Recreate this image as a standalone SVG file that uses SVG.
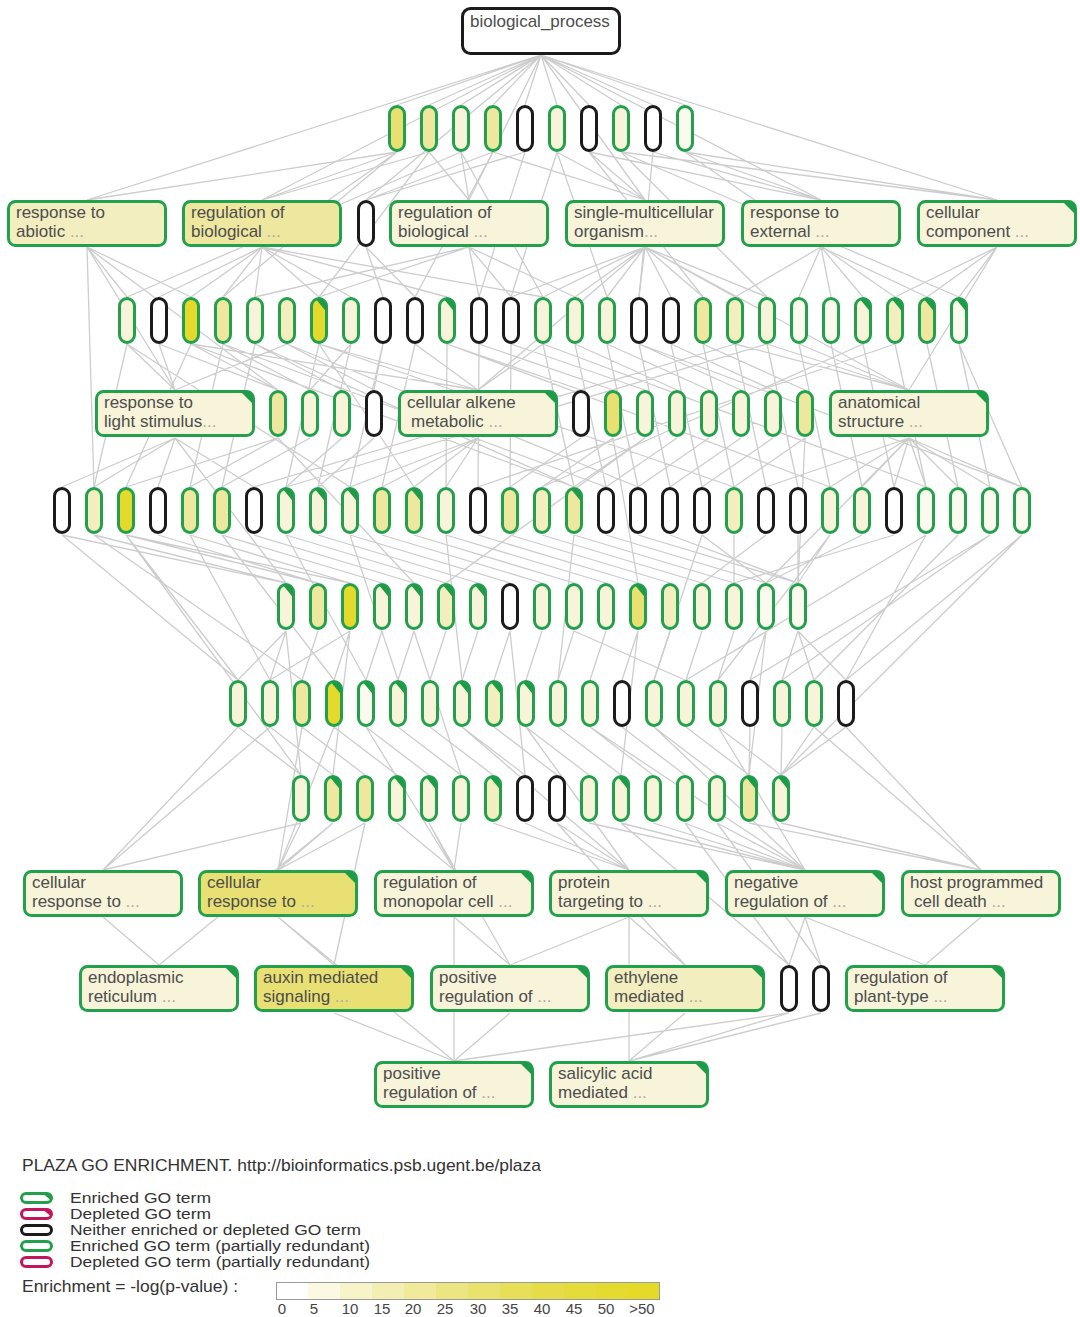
<svg xmlns="http://www.w3.org/2000/svg" xmlns:xlink="http://www.w3.org/1999/xlink" width="1080" height="1317" viewBox="0 0 1080 1317">
<style>
.e{stroke:#cdcdcd;stroke-width:1.3;fill:none}
.g{stroke:#22a04b;stroke-width:3}
.k{stroke:#1b1b1b;stroke-width:3}
.m{stroke:#c2185b;stroke-width:3}
.w{fill:#ffffff}
.f0{fill:#fbfaee}
.f1{fill:#f7f4da}
.f2{fill:#f2eec0}
.f3{fill:#eee79f}
.f4{fill:#e9e073}
.f5{fill:#e5da2c}
.t{font-family:"Liberation Sans",Arial,sans-serif;font-size:17px;fill:#4d4d4d}
.d{fill:#aaaaaa}
.lg{font-family:"Liberation Sans",Arial,sans-serif;font-size:17px;fill:#333333}
.ls{font-family:"Liberation Sans",Arial,sans-serif;font-size:14.5px;fill:#333333}
.sc{font-family:"Liberation Sans",Arial,sans-serif;font-size:15px;fill:#444444;text-anchor:middle}
</style>
<defs>
<rect id="p" width="15" height="44" rx="7.5"/>
<g id="pf"><use href="#p"/><path d="M4.5 0.63A7.5 7.5 0 0 1 15 7.5V13.5Z" fill="#1e9b48" stroke="none"/></g>
<rect id="b" width="157" height="44" rx="7"/>
<g id="bf"><use href="#b"/><path d="M144 0H150A7 7 0 0 1 157 7V13Z" fill="#1e9b48" stroke="none"/></g>
</defs>
<rect width="1080" height="1317" fill="#ffffff"/>
<g id="edges" class="e">
<path d="M541 55L397 105M541 55L429 105M541 55L461 105M541 55L493 105M541 55L525 105M541 55L557 105M541 55L589 105M541 55L621 105M541 55L653 105M541 55L685 105M541 55L87 200M541 55L262 200M541 55L366 200M541 55L469 200M541 55L645 200M541 55L821 200M541 55L997 200"/>
<path d="M397 152L87 200M397 152L262 200M429 152L262 200M429 152L469 200M461 152L469 200M461 152L127 297M493 152L645 200M493 152L366 200M525 152L366 200M557 152L645 200M589 152L821 200M589 152L645 200M621 152L997 200M653 152L821 200M685 152L997 200M685 152L821 200M397 152L191 297M429 152L319 297M461 152L543 297M525 152L479 297M557 152L607 297M589 152L703 297M621 152L767 297M653 152L639 297M685 152L895 297M493 152L415 297M621 152L959 297M397 152L223 297M557 152L511 297"/>
<path d="M87 247L127 297M87 247L191 297M87 247L278 390M87 247L175 390M262 247L223 297M262 247L255 297M262 247L319 297M262 247L351 297M262 247L447 297M262 247L543 297M366 247L383 297M366 247L415 297M469 247L479 297M469 247L511 297M469 247L575 297M469 247L319 297M469 247L255 297M645 247L575 297M645 247L607 297M645 247L639 297M645 247L671 297M645 247L703 297M645 247L735 297M645 247L767 297M645 247L511 297M645 247L543 297M645 247L478 390M645 247L909 390M821 247L799 297M821 247L831 297M821 247L863 297M821 247L735 297M821 247L927 297M997 247L959 297M997 247L927 297M997 247L895 297M997 247L909 390M87 247L94 487M262 247L159 297"/>
<path d="M127 344L175 390M127 344L94 487M159 344L175 390M159 344L278 390M191 344L126 487M191 344L278 390M191 344L478 390M223 344L310 390M223 344L190 487M255 344L342 390M255 344L222 487M287 344L374 390M287 344L175 390M319 344L478 390M319 344L286 487M319 344L414 487M351 344L310 390M351 344L318 487M383 344L374 390M383 344L350 487M415 344L478 390M415 344L382 487M447 344L581 390M447 344L446 487M479 344L613 390M479 344L478 487M511 344L645 390M511 344L510 487M543 344L478 390M543 344L574 487M575 344L677 390M575 344L606 487M607 344L709 390M607 344L638 487M639 344L741 390M639 344L670 487M671 344L773 390M671 344L702 487M703 344L805 390M703 344L734 487M735 344L909 390M735 344L766 487M767 344L909 390M767 344L798 487M799 344L909 390M799 344L830 487M831 344L862 487M863 344L894 487M895 344L926 487M927 344L958 487M959 344L990 487M959 344L1022 487M191 344L574 487M223 344L606 487M287 344L638 487M735 344L254 487M767 344L286 487M863 344L542 487M895 344L478 487M127 344L350 487M447 344L830 487M543 344L926 487M639 344L1022 487M319 344L734 487M255 344L574 487"/>
<path d="M175 438L62 487M175 438L94 487M175 438L158 487M175 438L254 487M278 438L126 487M278 438L190 487M310 438L222 487M342 438L286 487M374 438L318 487M478 438L350 487M478 438L382 487M478 438L414 487M478 438L446 487M581 438L510 487M613 438L542 487M645 438L574 487M677 438L606 487M709 438L638 487M741 438L670 487M773 438L702 487M805 438L734 487M909 438L830 487M909 438L862 487M909 438L894 487M909 438L926 487M909 438L958 487M909 438L990 487M909 438L1022 487M909 438L766 487M278 438L414 583M613 438L638 583M805 438L798 583M645 438L446 583M175 438L286 583M909 438L766 583"/>
<path d="M94 535L286 583M126 535L318 583M126 535L350 583M126 535L238 680M158 535L318 583M190 535L350 583M190 535L270 680M222 535L382 583M254 535L414 583M286 535L446 583M318 535L478 583M350 535L510 583M382 535L542 583M414 535L574 583M446 535L606 583M478 535L638 583M510 535L670 583M542 535L702 583M574 535L734 583M606 535L766 583M638 535L798 583M670 535L798 583M702 535L766 583M734 535L734 583M766 535L702 583M798 535L798 583M830 535L798 583M862 535L766 583M894 535L734 583M926 535L846 680M958 535L814 680M990 535L782 680M1022 535L846 680M62 535L238 680M94 535L302 680M222 535L334 680M286 535L366 680M350 535L398 680M446 535L462 680M574 535L558 680M702 535L654 680M830 535L718 680M926 535L686 680M990 535L750 680M126 535L301 775M1022 535L781 775M62 535L286 583"/>
<path d="M286 631L238 680M286 631L270 680M318 631L302 680M350 631L334 680M350 631L270 680M382 631L366 680M414 631L398 680M446 631L430 680M478 631L462 680M510 631L494 680M542 631L526 680M574 631L558 680M606 631L590 680M638 631L622 680M670 631L654 680M702 631L686 680M734 631L718 680M766 631L750 680M798 631L782 680M798 631L814 680M798 631L846 680M350 631L333 775M638 631L621 775M510 631L525 775M414 631L461 775M286 631L301 775M766 631L749 775M574 631L685 680"/>
<path d="M238 727L301 775M270 727L333 775M302 727L365 775M334 727L397 775M366 727L429 775M398 727L461 775M430 727L493 775M462 727L525 775M494 727L557 775M526 727L589 775M558 727L621 775M590 727L653 775M622 727L685 775M654 727L717 775M686 727L749 775M718 727L781 775M750 727L749 775M782 727L781 775M814 727L781 775M846 727L781 775M238 727L103 870M270 727L103 870M302 727L278 870M334 727L278 870M366 727L454 870M462 727L629 870M526 727L629 870M590 727L805 870M654 727L805 870M718 727L805 870M846 727L981 870M814 727L981 870"/>
<path d="M301 823L103 870M301 823L278 870M333 823L278 870M365 823L278 870M397 823L454 870M429 823L454 870M461 823L454 870M493 823L629 870M525 823L629 870M557 823L629 870M589 823L805 870M621 823L805 870M653 823L805 870M685 823L805 870M717 823L805 870M749 823L981 870M781 823L981 870M333 823L159 965M365 823L334 965M429 823L510 965M621 823L789 965M685 823L789 965M717 823L821 965M557 823L685 965"/>
<path d="M103 917L159 965M278 917L334 965M454 917L510 965M629 917L685 965M805 917L789 965M805 917L821 965M981 917L925 965M629 917L510 965M278 917L454 1061M629 917L629 1061M805 917L925 965M454 917L454 1061"/>
<path d="M510 1013L454 1061M685 1013L629 1061M789 1013L629 1061M821 1013L629 1061M789 1013L454 1061M334 1013L454 1061"/>
</g>
<g id="root"><rect x="462.5" y="8.5" width="157" height="45" rx="8" class="k w"/><text class="t" x="470" y="27">biological_process</text></g>
<g id="a1"><use href="#p" x="389.5" y="106.5" class="g f4"/></g>
<g id="a2"><use href="#p" x="421.5" y="106.5" class="g f3"/></g>
<g id="a3"><use href="#p" x="453.5" y="106.5" class="g f1"/></g>
<g id="a4"><use href="#p" x="485.5" y="106.5" class="g f3"/></g>
<g id="a5"><use href="#p" x="517.5" y="106.5" class="k w"/></g>
<g id="a6"><use href="#p" x="549.5" y="106.5" class="g f1"/></g>
<g id="a7"><use href="#p" x="581.5" y="106.5" class="k w"/></g>
<g id="a8"><use href="#p" x="613.5" y="106.5" class="g f1"/></g>
<g id="a9"><use href="#p" x="645.5" y="106.5" class="k w"/></g>
<g id="a10"><use href="#p" x="677.5" y="106.5" class="g f0"/></g>
<g id="b1"><use href="#b" x="8.5" y="201.5" class="g f2"/><text class="t" x="16" y="218">response to</text><text class="t" x="16" y="237">abiotic <tspan class="d">...</tspan></text></g>
<g id="b2"><use href="#b" x="183.5" y="201.5" class="g f3"/><text class="t" x="191" y="218">regulation of</text><text class="t" x="191" y="237">biological <tspan class="d">...</tspan></text></g>
<g id="bp"><use href="#p" x="358.5" y="201.5" class="k w"/></g>
<g id="b3"><use href="#b" x="390.5" y="201.5" class="g f1"/><text class="t" x="398" y="218">regulation of</text><text class="t" x="398" y="237">biological <tspan class="d">...</tspan></text></g>
<g id="b4"><use href="#b" x="566.5" y="201.5" class="g f1"/><text class="t" x="574" y="218">single-multicellular</text><text class="t" x="574" y="237">organism<tspan class="d">...</tspan></text></g>
<g id="b5"><use href="#b" x="742.5" y="201.5" class="g f1"/><text class="t" x="750" y="218">response to</text><text class="t" x="750" y="237">external <tspan class="d">...</tspan></text></g>
<g id="b6"><use href="#bf" x="918.5" y="201.5" class="g f1"/><text class="t" x="926" y="218">cellular</text><text class="t" x="926" y="237">component <tspan class="d">...</tspan></text></g>
<g id="c1"><use href="#p" x="119.5" y="298.5" class="g f1"/></g>
<g id="c2"><use href="#p" x="151.5" y="298.5" class="k w"/></g>
<g id="c3"><use href="#p" x="183.5" y="298.5" class="g f5"/></g>
<g id="c4"><use href="#p" x="215.5" y="298.5" class="g f3"/></g>
<g id="c5"><use href="#p" x="247.5" y="298.5" class="g f1"/></g>
<g id="c6"><use href="#p" x="279.5" y="298.5" class="g f2"/></g>
<g id="c7"><use href="#pf" x="311.5" y="298.5" class="g f5"/></g>
<g id="c8"><use href="#p" x="343.5" y="298.5" class="g f1"/></g>
<g id="c9"><use href="#p" x="375.5" y="298.5" class="k w"/></g>
<g id="c10"><use href="#p" x="407.5" y="298.5" class="k w"/></g>
<g id="c11"><use href="#pf" x="439.5" y="298.5" class="g f1"/></g>
<g id="c12"><use href="#p" x="471.5" y="298.5" class="k w"/></g>
<g id="c13"><use href="#p" x="503.5" y="298.5" class="k w"/></g>
<g id="c14"><use href="#p" x="535.5" y="298.5" class="g f1"/></g>
<g id="c15"><use href="#p" x="567.5" y="298.5" class="g f1"/></g>
<g id="c16"><use href="#p" x="599.5" y="298.5" class="g f1"/></g>
<g id="c17"><use href="#p" x="631.5" y="298.5" class="k w"/></g>
<g id="c18"><use href="#p" x="663.5" y="298.5" class="k w"/></g>
<g id="c19"><use href="#p" x="695.5" y="298.5" class="g f3"/></g>
<g id="c20"><use href="#p" x="727.5" y="298.5" class="g f2"/></g>
<g id="c21"><use href="#p" x="759.5" y="298.5" class="g f1"/></g>
<g id="c22"><use href="#p" x="791.5" y="298.5" class="g f0"/></g>
<g id="c23"><use href="#p" x="823.5" y="298.5" class="g f0"/></g>
<g id="c24"><use href="#pf" x="855.5" y="298.5" class="g f1"/></g>
<g id="c25"><use href="#pf" x="887.5" y="298.5" class="g f2"/></g>
<g id="c26"><use href="#pf" x="919.5" y="298.5" class="g f3"/></g>
<g id="c27"><use href="#pf" x="951.5" y="298.5" class="g f0"/></g>
<g id="d1"><use href="#bf" x="96.5" y="391.5" class="g f1"/><text class="t" x="104" y="408">response to</text><text class="t" x="104" y="427">light stimulus<tspan class="d">...</tspan></text></g>
<g id="dp1"><use href="#p" x="270.5" y="391.5" class="g f3"/></g>
<g id="dp2"><use href="#p" x="302.5" y="391.5" class="g f1"/></g>
<g id="dp3"><use href="#p" x="334.5" y="391.5" class="g f1"/></g>
<g id="dp4"><use href="#p" x="366.5" y="391.5" class="k w"/></g>
<g id="d2"><use href="#bf" x="399.5" y="391.5" class="g f1"/><text class="t" x="407" y="408">cellular alkene</text><text class="t" x="411" y="427">metabolic <tspan class="d">...</tspan></text></g>
<g id="dp5"><use href="#p" x="573.5" y="391.5" class="k w"/></g>
<g id="dp6"><use href="#p" x="605.5" y="391.5" class="g f4"/></g>
<g id="dp7"><use href="#p" x="637.5" y="391.5" class="g f1"/></g>
<g id="dp8"><use href="#p" x="669.5" y="391.5" class="g f1"/></g>
<g id="dp9"><use href="#p" x="701.5" y="391.5" class="g f1"/></g>
<g id="dp10"><use href="#p" x="733.5" y="391.5" class="g f1"/></g>
<g id="dp11"><use href="#p" x="765.5" y="391.5" class="g f1"/></g>
<g id="dp12"><use href="#p" x="797.5" y="391.5" class="g f3"/></g>
<g id="d3"><use href="#bf" x="830.5" y="391.5" class="g f1"/><text class="t" x="838" y="408">anatomical</text><text class="t" x="838" y="427">structure <tspan class="d">...</tspan></text></g>
<g id="e1"><use href="#p" x="54.5" y="488.5" class="k w"/></g>
<g id="e2"><use href="#p" x="86.5" y="488.5" class="g f2"/></g>
<g id="e3"><use href="#p" x="118.5" y="488.5" class="g f5"/></g>
<g id="e4"><use href="#p" x="150.5" y="488.5" class="k w"/></g>
<g id="e5"><use href="#p" x="182.5" y="488.5" class="g f3"/></g>
<g id="e6"><use href="#p" x="214.5" y="488.5" class="g f3"/></g>
<g id="e7"><use href="#p" x="246.5" y="488.5" class="k w"/></g>
<g id="e8"><use href="#pf" x="278.5" y="488.5" class="g f1"/></g>
<g id="e9"><use href="#pf" x="310.5" y="488.5" class="g f1"/></g>
<g id="e10"><use href="#pf" x="342.5" y="488.5" class="g f1"/></g>
<g id="e11"><use href="#p" x="374.5" y="488.5" class="g f3"/></g>
<g id="e12"><use href="#pf" x="406.5" y="488.5" class="g f3"/></g>
<g id="e13"><use href="#p" x="438.5" y="488.5" class="g f1"/></g>
<g id="e14"><use href="#p" x="470.5" y="488.5" class="k w"/></g>
<g id="e15"><use href="#p" x="502.5" y="488.5" class="g f3"/></g>
<g id="e16"><use href="#p" x="534.5" y="488.5" class="g f2"/></g>
<g id="e17"><use href="#pf" x="566.5" y="488.5" class="g f3"/></g>
<g id="e18"><use href="#p" x="598.5" y="488.5" class="k w"/></g>
<g id="e19"><use href="#p" x="630.5" y="488.5" class="k w"/></g>
<g id="e20"><use href="#p" x="662.5" y="488.5" class="k w"/></g>
<g id="e21"><use href="#p" x="694.5" y="488.5" class="k w"/></g>
<g id="e22"><use href="#p" x="726.5" y="488.5" class="g f2"/></g>
<g id="e23"><use href="#p" x="758.5" y="488.5" class="k w"/></g>
<g id="e24"><use href="#p" x="790.5" y="488.5" class="k w"/></g>
<g id="e25"><use href="#p" x="822.5" y="488.5" class="g f1"/></g>
<g id="e26"><use href="#p" x="854.5" y="488.5" class="g f1"/></g>
<g id="e27"><use href="#p" x="886.5" y="488.5" class="k w"/></g>
<g id="e28"><use href="#p" x="918.5" y="488.5" class="g f0"/></g>
<g id="e29"><use href="#p" x="950.5" y="488.5" class="g f0"/></g>
<g id="e30"><use href="#p" x="982.5" y="488.5" class="g f0"/></g>
<g id="e31"><use href="#p" x="1014.5" y="488.5" class="g f0"/></g>
<g id="f1"><use href="#pf" x="278.5" y="584.5" class="g f1"/></g>
<g id="f2"><use href="#p" x="310.5" y="584.5" class="g f3"/></g>
<g id="f3"><use href="#p" x="342.5" y="584.5" class="g f5"/></g>
<g id="f4"><use href="#pf" x="374.5" y="584.5" class="g f1"/></g>
<g id="f5"><use href="#pf" x="406.5" y="584.5" class="g f1"/></g>
<g id="f6"><use href="#pf" x="438.5" y="584.5" class="g f2"/></g>
<g id="f7"><use href="#pf" x="470.5" y="584.5" class="g f1"/></g>
<g id="f8"><use href="#p" x="502.5" y="584.5" class="k w"/></g>
<g id="f9"><use href="#p" x="534.5" y="584.5" class="g f1"/></g>
<g id="f10"><use href="#p" x="566.5" y="584.5" class="g f1"/></g>
<g id="f11"><use href="#p" x="598.5" y="584.5" class="g f1"/></g>
<g id="f12"><use href="#pf" x="630.5" y="584.5" class="g f4"/></g>
<g id="f13"><use href="#p" x="662.5" y="584.5" class="g f2"/></g>
<g id="f14"><use href="#p" x="694.5" y="584.5" class="g f1"/></g>
<g id="f15"><use href="#p" x="726.5" y="584.5" class="g f1"/></g>
<g id="f16"><use href="#p" x="758.5" y="584.5" class="g f0"/></g>
<g id="f17"><use href="#p" x="790.5" y="584.5" class="g f0"/></g>
<g id="g1"><use href="#p" x="230.5" y="681.5" class="g f1"/></g>
<g id="g2"><use href="#p" x="262.5" y="681.5" class="g f1"/></g>
<g id="g3"><use href="#p" x="294.5" y="681.5" class="g f3"/></g>
<g id="g4"><use href="#pf" x="326.5" y="681.5" class="g f5"/></g>
<g id="g5"><use href="#pf" x="358.5" y="681.5" class="g f0"/></g>
<g id="g6"><use href="#pf" x="390.5" y="681.5" class="g f1"/></g>
<g id="g7"><use href="#p" x="422.5" y="681.5" class="g f1"/></g>
<g id="g8"><use href="#pf" x="454.5" y="681.5" class="g f1"/></g>
<g id="g9"><use href="#pf" x="486.5" y="681.5" class="g f2"/></g>
<g id="g10"><use href="#pf" x="518.5" y="681.5" class="g f1"/></g>
<g id="g11"><use href="#p" x="550.5" y="681.5" class="g f1"/></g>
<g id="g12"><use href="#p" x="582.5" y="681.5" class="g f1"/></g>
<g id="g13"><use href="#p" x="614.5" y="681.5" class="k w"/></g>
<g id="g14"><use href="#p" x="646.5" y="681.5" class="g f1"/></g>
<g id="g15"><use href="#p" x="678.5" y="681.5" class="g f1"/></g>
<g id="g16"><use href="#p" x="710.5" y="681.5" class="g f1"/></g>
<g id="g17"><use href="#p" x="742.5" y="681.5" class="k w"/></g>
<g id="g18"><use href="#p" x="774.5" y="681.5" class="g f1"/></g>
<g id="g19"><use href="#p" x="806.5" y="681.5" class="g f1"/></g>
<g id="g20"><use href="#p" x="838.5" y="681.5" class="k w"/></g>
<g id="h1"><use href="#p" x="293.5" y="776.5" class="g f1"/></g>
<g id="h2"><use href="#pf" x="325.5" y="776.5" class="g f3"/></g>
<g id="h3"><use href="#p" x="357.5" y="776.5" class="g f3"/></g>
<g id="h4"><use href="#pf" x="389.5" y="776.5" class="g f1"/></g>
<g id="h5"><use href="#pf" x="421.5" y="776.5" class="g f1"/></g>
<g id="h6"><use href="#p" x="453.5" y="776.5" class="g f1"/></g>
<g id="h7"><use href="#pf" x="485.5" y="776.5" class="g f2"/></g>
<g id="h8"><use href="#p" x="517.5" y="776.5" class="k w"/></g>
<g id="h9"><use href="#p" x="549.5" y="776.5" class="k w"/></g>
<g id="h10"><use href="#p" x="581.5" y="776.5" class="g f1"/></g>
<g id="h11"><use href="#pf" x="613.5" y="776.5" class="g f1"/></g>
<g id="h12"><use href="#p" x="645.5" y="776.5" class="g f1"/></g>
<g id="h13"><use href="#p" x="677.5" y="776.5" class="g f1"/></g>
<g id="h14"><use href="#p" x="709.5" y="776.5" class="g f1"/></g>
<g id="h15"><use href="#pf" x="741.5" y="776.5" class="g f3"/></g>
<g id="h16"><use href="#pf" x="773.5" y="776.5" class="g f1"/></g>
<g id="i1"><use href="#b" x="24.5" y="871.5" class="g f1"/><text class="t" x="32" y="888">cellular</text><text class="t" x="32" y="907">response to <tspan class="d">...</tspan></text></g>
<g id="i2"><use href="#bf" x="199.5" y="871.5" class="g f4"/><text class="t" x="207" y="888">cellular</text><text class="t" x="207" y="907">response to <tspan class="d">...</tspan></text></g>
<g id="i3"><use href="#bf" x="375.5" y="871.5" class="g f1"/><text class="t" x="383" y="888">regulation of</text><text class="t" x="383" y="907">monopolar cell <tspan class="d">...</tspan></text></g>
<g id="i4"><use href="#bf" x="550.5" y="871.5" class="g f1"/><text class="t" x="558" y="888">protein</text><text class="t" x="558" y="907">targeting to <tspan class="d">...</tspan></text></g>
<g id="i5"><use href="#bf" x="726.5" y="871.5" class="g f1"/><text class="t" x="734" y="888">negative</text><text class="t" x="734" y="907">regulation of <tspan class="d">...</tspan></text></g>
<g id="i6"><use href="#b" x="902.5" y="871.5" class="g f1"/><text class="t" x="910" y="888">host programmed</text><text class="t" x="914" y="907">cell death <tspan class="d">...</tspan></text></g>
<g id="j1"><use href="#bf" x="80.5" y="966.5" class="g f1"/><text class="t" x="88" y="983">endoplasmic</text><text class="t" x="88" y="1002">reticulum <tspan class="d">...</tspan></text></g>
<g id="j2"><use href="#bf" x="255.5" y="966.5" class="g f4"/><text class="t" x="263" y="983">auxin mediated</text><text class="t" x="263" y="1002">signaling <tspan class="d">...</tspan></text></g>
<g id="j3"><use href="#bf" x="431.5" y="966.5" class="g f1"/><text class="t" x="439" y="983">positive</text><text class="t" x="439" y="1002">regulation of <tspan class="d">...</tspan></text></g>
<g id="j4"><use href="#bf" x="606.5" y="966.5" class="g f2"/><text class="t" x="614" y="983">ethylene</text><text class="t" x="614" y="1002">mediated <tspan class="d">...</tspan></text></g>
<g id="jp1"><use href="#p" x="781.5" y="966.5" class="k w"/></g>
<g id="jp2"><use href="#p" x="813.5" y="966.5" class="k w"/></g>
<g id="j5"><use href="#bf" x="846.5" y="966.5" class="g f1"/><text class="t" x="854" y="983">regulation of</text><text class="t" x="854" y="1002">plant-type <tspan class="d">...</tspan></text></g>
<g id="k1"><use href="#bf" x="375.5" y="1062.5" class="g f1"/><text class="t" x="383" y="1079">positive</text><text class="t" x="383" y="1098">regulation of <tspan class="d">...</tspan></text></g>
<g id="k2"><use href="#bf" x="550.5" y="1062.5" class="g f1"/><text class="t" x="558" y="1079">salicylic acid</text><text class="t" x="558" y="1098">mediated <tspan class="d">...</tspan></text></g>
<g id="legend">
<text class="lg" x="22" y="1171" font-size="16" textLength="519" lengthAdjust="spacingAndGlyphs">PLAZA GO ENRICHMENT. http://bioinformatics.psb.ugent.be/plaza</text>
<rect x="21.5" y="1193.5" width="30" height="9" rx="4.5" class="g w"/><path d="M43 1193.5H47A4.5 4.5 0 0 1 51.5 1198V1201Z" fill="#1e9b48"/>
<rect x="21.5" y="1209.5" width="30" height="9" rx="4.5" class="m w"/><path d="M43 1209.5H47A4.5 4.5 0 0 1 51.5 1214V1217Z" fill="#c2185b"/>
<rect x="21.5" y="1225.5" width="30" height="9" rx="4.5" class="k w"/>
<rect x="21.5" y="1241.5" width="30" height="9" rx="4.5" class="g w"/>
<rect x="21.5" y="1257.5" width="30" height="9" rx="4.5" class="m w"/>
<text class="ls" x="70" y="1203" textLength="141" lengthAdjust="spacingAndGlyphs">Enriched GO term</text>
<text class="ls" x="70" y="1219" textLength="141" lengthAdjust="spacingAndGlyphs">Depleted GO term</text>
<text class="ls" x="70" y="1235" textLength="291" lengthAdjust="spacingAndGlyphs">Neither enriched or depleted GO term</text>
<text class="ls" x="70" y="1251" textLength="300" lengthAdjust="spacingAndGlyphs">Enriched GO term (partially redundant)</text>
<text class="ls" x="70" y="1267" textLength="300" lengthAdjust="spacingAndGlyphs">Depleted GO term (partially redundant)</text>
<text class="lg" x="22" y="1292" textLength="216" lengthAdjust="spacingAndGlyphs">Enrichment = -log(p-value) :</text>
<rect x="276" y="1282" width="32" height="18" fill="#ffffff"/>
<rect x="308" y="1282" width="32" height="18" fill="#fbf9e2"/>
<rect x="340" y="1282" width="32" height="18" fill="#f7f4ca"/>
<rect x="372" y="1282" width="32" height="18" fill="#f3efb2"/>
<rect x="404" y="1282" width="32" height="18" fill="#f0ea9a"/>
<rect x="436" y="1282" width="32" height="18" fill="#ece682"/>
<rect x="468" y="1282" width="32" height="18" fill="#e9e26c"/>
<rect x="500" y="1282" width="32" height="18" fill="#e7df58"/>
<rect x="532" y="1282" width="32" height="18" fill="#e6dc48"/>
<rect x="564" y="1282" width="32" height="18" fill="#e5db3a"/>
<rect x="596" y="1282" width="32" height="18" fill="#e5da2e"/>
<rect x="628" y="1282" width="32" height="18" fill="#e5da28"/>
<rect x="276.5" y="1282.5" width="383" height="17" fill="none" stroke="#9a9a9a" stroke-width="1"/>
<text class="sc" x="282" y="1314">0</text>
<text class="sc" x="314" y="1314">5</text>
<text class="sc" x="350" y="1314">10</text>
<text class="sc" x="382" y="1314">15</text>
<text class="sc" x="413" y="1314">20</text>
<text class="sc" x="445" y="1314">25</text>
<text class="sc" x="478" y="1314">30</text>
<text class="sc" x="510" y="1314">35</text>
<text class="sc" x="542" y="1314">40</text>
<text class="sc" x="574" y="1314">45</text>
<text class="sc" x="606" y="1314">50</text>
<text class="sc" x="642" y="1314">&gt;50</text>
</g>
</svg>
